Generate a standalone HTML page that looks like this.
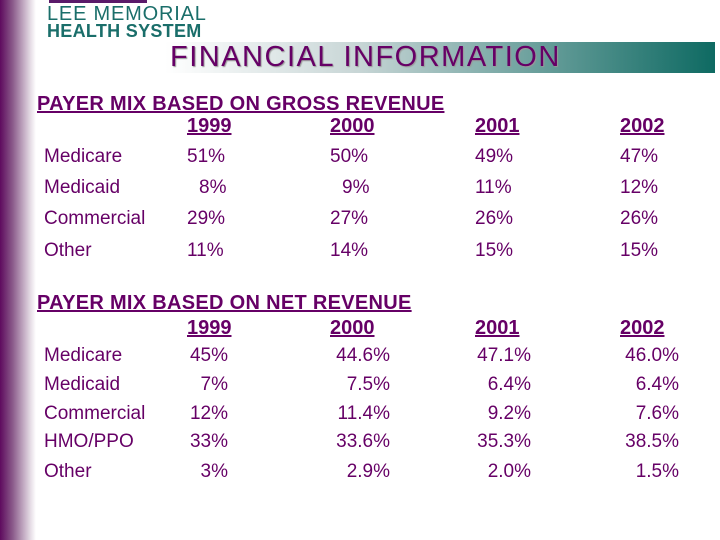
<!DOCTYPE html>
<html><head><meta charset="utf-8"><style>
body{margin:0;width:720px;height:540px;position:relative;overflow:hidden;background:#fff;font-family:"Liberation Sans",sans-serif;color:#660066}
.a{position:absolute;white-space:nowrap;font-size:19px;line-height:22px}
.r{text-align:right}
.u{text-decoration:underline}
.y{font-weight:bold;font-size:20px}
</style></head><body>
<div style="position:absolute;left:0;top:0;width:36px;height:540px;background:linear-gradient(to right,#5e0a5e,#8a5a8a 35%,#e6dde6 85%,#fff)"></div>
<div>
<div style="position:absolute;left:49px;top:0;width:98px;height:3px;background:#5a1a6a"></div>
<div class="a" style="left:47px;top:3px;font-size:20px;color:#1a6e6a;letter-spacing:0.8px">LEE MEMORIAL</div>
<div class="a" style="left:47px;top:20px;font-size:18px;font-weight:bold;color:#1a6e6a;letter-spacing:0.3px">HEALTH SYSTEM</div>
</div>
<div style="position:absolute;left:165px;top:42px;width:550px;height:31px;background:linear-gradient(to right,#fff,#c8d6d6 35%,#2a7a74 90%,#0e6a62)"></div>
<div class="a" style="left:170px;top:41px;font-size:29px;line-height:32px;letter-spacing:1.5px;text-shadow:1px 1px 1px #999">FINANCIAL INFORMATION</div>

<div class="a u" style="left:37px;top:93px;font-size:20px;font-weight:bold;letter-spacing:0.3px">PAYER MIX BASED ON GROSS REVENUE</div>
<div>
<div class="a u y" style="left:187px;top:115px">1999</div>
<div class="a u y" style="left:330px;top:115px">2000</div>
<div class="a u y" style="left:475px;top:115px">2001</div>
<div class="a u y" style="left:620px;top:115px">2002</div>
<div class="a" style="left:44px;top:146px">Medicare</div>
<div class="a" style="left:44px;top:177px">Medicaid</div>
<div class="a" style="left:44px;top:208px">Commercial</div>
<div class="a" style="left:44px;top:240px">Other</div>
<div class="a" style="left:187px;top:146px">51%</div><div class="a" style="left:330px;top:146px">50%</div><div class="a" style="left:475px;top:146px">49%</div><div class="a" style="left:620px;top:146px">47%</div>
<div class="a" style="left:199px;top:177px">8%</div><div class="a" style="left:342px;top:177px">9%</div><div class="a" style="left:475px;top:177px">11%</div><div class="a" style="left:620px;top:177px">12%</div>
<div class="a" style="left:187px;top:208px">29%</div><div class="a" style="left:330px;top:208px">27%</div><div class="a" style="left:475px;top:208px">26%</div><div class="a" style="left:620px;top:208px">26%</div>
<div class="a" style="left:187px;top:240px">11%</div><div class="a" style="left:330px;top:240px">14%</div><div class="a" style="left:475px;top:240px">15%</div><div class="a" style="left:620px;top:240px">15%</div>
</div>

<div class="a u" style="left:37px;top:292px;font-size:20px;font-weight:bold;letter-spacing:0.3px">PAYER MIX BASED ON NET REVENUE</div>
<div>
<div class="a u y" style="left:187px;top:317px">1999</div>
<div class="a u y" style="left:330px;top:317px">2000</div>
<div class="a u y" style="left:475px;top:317px">2001</div>
<div class="a u y" style="left:620px;top:317px">2002</div>
<div class="a" style="left:44px;top:345px">Medicare</div>
<div class="a" style="left:44px;top:374px">Medicaid</div>
<div class="a" style="left:44px;top:403px">Commercial</div>
<div class="a" style="left:44px;top:431px">HMO/PPO</div>
<div class="a" style="left:44px;top:461px">Other</div>
<div class="a r" style="right:492px;top:345px">45%</div><div class="a r" style="right:330px;top:345px">44.6%</div><div class="a r" style="right:189px;top:345px">47.1%</div><div class="a r" style="right:41px;top:345px">46.0%</div>
<div class="a r" style="right:492px;top:374px">7%</div><div class="a r" style="right:330px;top:374px">7.5%</div><div class="a r" style="right:189px;top:374px">6.4%</div><div class="a r" style="right:41px;top:374px">6.4%</div>
<div class="a r" style="right:492px;top:403px">12%</div><div class="a r" style="right:330px;top:403px">11.4%</div><div class="a r" style="right:189px;top:403px">9.2%</div><div class="a r" style="right:41px;top:403px">7.6%</div>
<div class="a r" style="right:492px;top:431px">33%</div><div class="a r" style="right:330px;top:431px">33.6%</div><div class="a r" style="right:189px;top:431px">35.3%</div><div class="a r" style="right:41px;top:431px">38.5%</div>
<div class="a r" style="right:492px;top:461px">3%</div><div class="a r" style="right:330px;top:461px">2.9%</div><div class="a r" style="right:189px;top:461px">2.0%</div><div class="a r" style="right:41px;top:461px">1.5%</div>
</div>
</body></html>
